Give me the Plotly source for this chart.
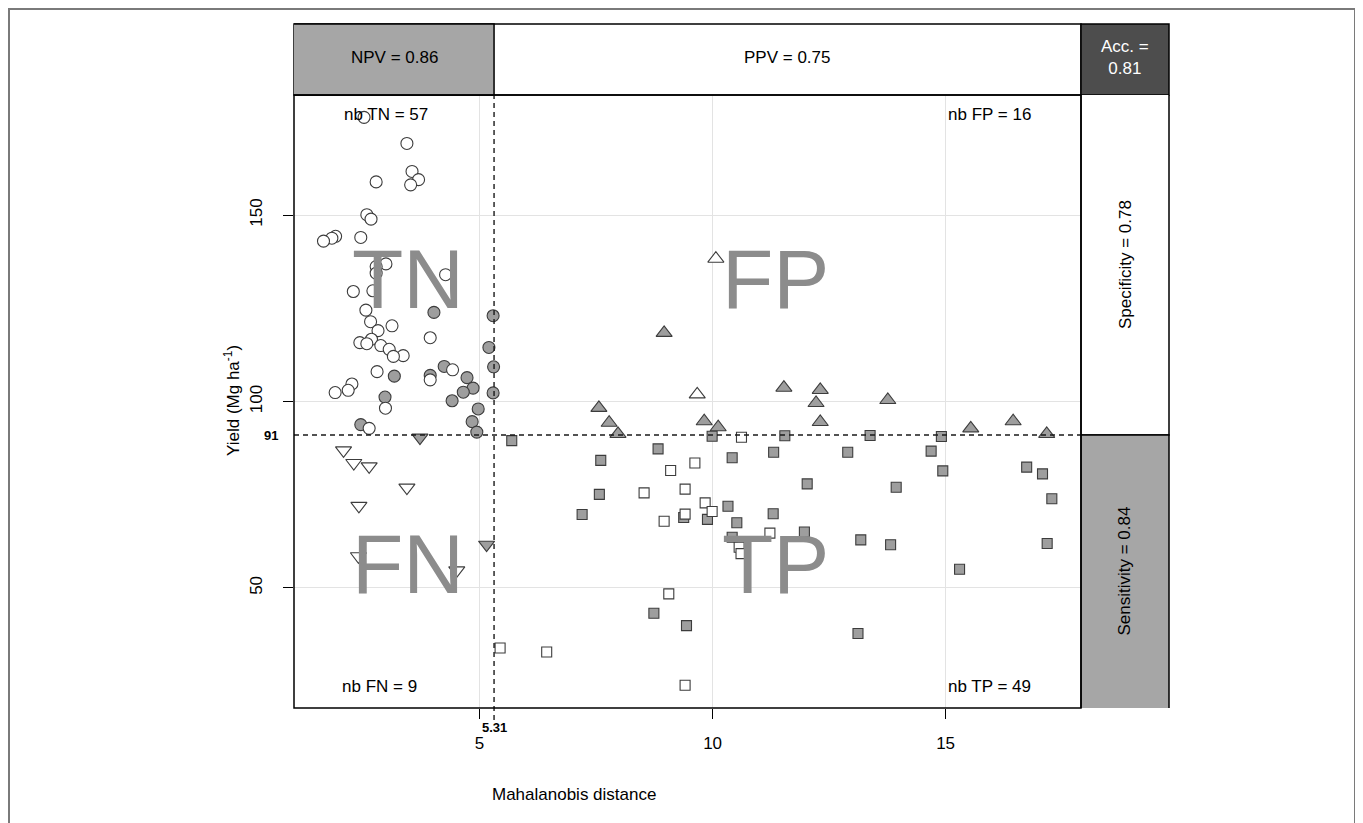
import plotly.graph_objects as go

# ---------------- data ----------------
x_threshold = 5.31
y_threshold = 91

circle_gray_x = [4.02, 5.29, 5.20, 5.30, 4.24, 3.17, 4.73, 3.94, 4.86, 4.65, 5.29, 4.41, 2.97, 4.97, 4.84, 4.94, 2.45]
circle_gray_y = [123.9, 123.0, 114.5, 109.3, 109.4, 106.8, 106.4, 107.0, 103.6, 102.5, 102.3, 100.2, 101.2, 98.0, 94.6, 91.8, 93.8]
circle_open_x = [2.52, 3.44, 3.55, 3.69, 3.52, 2.78, 2.58, 2.67, 1.91, 1.83, 1.65, 2.45, 2.99, 2.78, 2.78, 4.27,
                 2.29, 2.71, 2.56, 2.66, 3.12, 2.82, 3.94, 2.68, 2.43, 2.58, 2.88, 3.06, 3.36, 3.15, 2.80, 4.42,
                 3.94, 2.26, 2.18, 1.90, 2.98, 2.63]
circle_open_y = [176.2, 169.2, 161.7, 159.5, 158.1, 158.9, 150.1, 148.9, 144.3, 143.8, 143.0, 144.0, 136.9, 136.2,
                 134.4, 134.0, 129.5, 129.7, 124.5, 121.4, 120.3, 119.0, 117.1, 116.7, 115.8, 115.5, 115.0, 114.0,
                 112.3, 112.1, 108.0, 108.5, 105.8, 104.7, 103.0, 102.4, 98.2, 92.8]

tri_down_gray_x = [3.72, 5.15]
tri_down_gray_y = [90.3, 61.6]
tri_down_open_x = [2.08, 2.30, 2.63, 3.44, 2.41, 2.40, 4.51]
tri_down_open_y = [86.9, 83.5, 82.6, 76.9, 72.0, 58.5, 54.7]

tri_up_gray_x = [8.96, 7.56, 7.78, 7.97, 9.82, 10.12, 11.53, 12.31, 12.22, 12.31, 13.76, 15.54, 16.45, 17.17]
tri_up_gray_y = [118.4, 98.3, 94.3, 91.3, 94.7, 93.1, 103.7, 103.1, 99.6, 94.5, 100.4, 92.8, 94.7, 91.3]
tri_up_open_x = [9.67, 10.07]
tri_up_open_y = [101.9, 138.3]

sq_gray_x = [5.69, 8.83, 7.60, 7.57, 7.20, 9.99, 10.42, 11.31, 11.55, 10.33, 11.30, 9.89, 10.52, 10.42, 9.38,
             8.74, 9.44, 13.38, 14.91, 12.90, 14.69, 14.94, 16.74, 17.08, 17.28, 12.03, 13.94, 11.97, 13.18,
             13.82, 17.18, 15.30, 13.12]
sq_gray_y = [89.5, 87.3, 84.2, 75.1, 69.7, 90.7, 84.9, 86.4, 90.8, 71.9, 69.9, 68.4, 67.5, 63.6, 68.9,
             43.2, 39.9, 90.9, 90.6, 86.4, 86.7, 81.4, 82.4, 80.6, 73.9, 77.9, 77.0, 65.0, 62.9,
             61.6, 61.9, 55.0, 37.8]
sq_open_x = [10.62, 9.62, 9.10, 9.41, 8.53, 9.84, 9.99, 9.41, 8.96, 11.23, 10.57, 10.61, 9.06, 5.44, 6.44, 9.41]
sq_open_y = [90.4, 83.5, 81.5, 76.5, 75.5, 72.8, 70.5, 69.8, 67.9, 64.7, 60.9, 59.2, 48.4, 33.9, 32.8, 23.9]

x_ticks = [5, 10, 15]
y_ticks = [50, 100, 150]
counts = {"TN": 57, "FP": 16, "FN": 9, "TP": 49}
npv, ppv, acc = 0.86, 0.75, 0.81
specificity, sensitivity = 0.78, 0.84

# ---------------- styling ----------------
FONT = "Liberation Sans, Arial, Helvetica, sans-serif"
GRAY_FILL = "#9e9e9e"
EDGE = "#3c3c3c"
BOX_GRAY = "#a6a6a6"
BOX_DARK = "#4d4d4d"
DASH = "5px,4px"

fig = go.Figure()


def add_pts(xs, ys, symbol, fill, size):
    fig.add_trace(go.Scatter(
        x=xs, y=ys, mode="markers", showlegend=False, hoverinfo="skip",
        marker=dict(symbol=symbol, color=fill, size=size, line=dict(color=EDGE, width=1.1)),
    ))


add_pts(circle_gray_x, circle_gray_y, "circle", GRAY_FILL, 12)
add_pts(circle_open_x, circle_open_y, "circle", "white", 12)
add_pts(tri_down_gray_x, tri_down_gray_y, "triangle-down", GRAY_FILL, 14)
add_pts(tri_down_open_x, tri_down_open_y, "triangle-down", "white", 14)
add_pts(tri_up_gray_x, tri_up_gray_y, "triangle-up", GRAY_FILL, 14)
add_pts(tri_up_open_x, tri_up_open_y, "triangle-up", "white", 14)
add_pts(sq_gray_x, sq_gray_y, "square", GRAY_FILL, 10)
add_pts(sq_open_x, sq_open_y, "square", "white", 10)

# page geometry (pixels in the screenshot); the page body adds an 8px offset
OFF = 8
W, H = 1363 - OFF, 823 - OFF
L, R, T, B = 294, 1081, 95, 708
pw, ph = R - L, B - T


def px(xp):
    return (xp - L) / pw


def py(yp):
    return (B - yp) / ph


shapes = []
# outer frame
shapes.append(dict(type="rect", xref="paper", yref="paper", x0=px(9), x1=px(1355), y0=py(860), y1=py(9),
                   line=dict(color="#7a7a7a", width=2), layer="below"))
# top strip boxes
shapes.append(dict(type="rect", xref="paper", yref="paper", x0=0, x1=1, y0=1, y1=py(24),
                   fillcolor="white", line=dict(color="black", width=1.5)))
shapes.append(dict(type="rect", xref="x", yref="paper", x0=-100, x1=x_threshold, y0=1, y1=py(24),
                   fillcolor=BOX_GRAY, line=dict(color="black", width=1.5)))
shapes.append(dict(type="rect", xref="paper", yref="paper", x0=1, x1=px(1169), y0=1, y1=py(24),
                   fillcolor=BOX_DARK, line=dict(color="black", width=1.5)))
# right column boxes
shapes.append(dict(type="rect", xref="paper", yref="y", x0=1, x1=px(1169), y0=y_threshold, y1=1000,
                   fillcolor="white", line=dict(color="black", width=1.5)))
shapes.append(dict(type="rect", xref="paper", yref="y", x0=1, x1=px(1169), y0=-1000, y1=y_threshold,
                   fillcolor=BOX_GRAY, line=dict(color="black", width=1.5)))
# threshold lines
shapes.append(dict(type="line", xref="x", yref="paper", x0=x_threshold, x1=x_threshold, y0=py(720), y1=1,
                   line=dict(color="#1a1a1a", width=1.4, dash=DASH)))
shapes.append(dict(type="line", xref="paper", yref="y", x0=0, x1=1, y0=y_threshold, y1=y_threshold,
                   line=dict(color="#1a1a1a", width=1.4, dash=DASH)))
# plot frame
shapes.append(dict(type="rect", xref="paper", yref="paper", x0=0, x1=1, y0=0, y1=1,
                   line=dict(color="black", width=1.5)))

ann = []


def text(x, y, s, size=17, color="black", xref="x", yref="y", angle=0, **kw):
    ann.append(dict(x=x, y=y, xref=xref, yref=yref, text=s, showarrow=False, textangle=angle,
                    xanchor="center", yanchor="middle",
                    font=dict(family=FONT, size=size, color=color), **kw))


BIG = "#8c8c8c"
text(3.46, 132.8, "TN", size=84, color=BIG)
text(11.36, 132.8, "FP", size=84, color=BIG)
text(3.46, 56.4, "FN", size=84, color=BIG)
text(11.36, 56.4, "TP", size=84, color=BIG)

text(3.0, 177.0, f"nb TN = {counts['TN']}")
text(15.95, 177.0, f"nb FP = {counts['FP']}")
text(2.86, 23.7, f"nb FN = {counts['FN']}")
text(15.95, 23.7, f"nb TP = {counts['TP']}")

text(px(394), py(58), f"NPV = {npv:.2f}", xref="paper", yref="paper")
text(px(787), py(58), f"PPV = {ppv:.2f}", xref="paper", yref="paper")
text(px(1125), py(58), f"Acc. =<br>{acc:.2f}", color="white", xref="paper", yref="paper")
text(px(1125), (y_threshold + 182.2) / 2, f"Specificity = {specificity:.2f}", xref="paper", angle=-90)
text(px(1125), (y_threshold + 17.8) / 2, f"Sensitivity = {sensitivity:.2f}", xref="paper", angle=-90)

text(x_threshold, py(727), f"<b>{x_threshold}</b>", size=13, yref="paper")
text(px(271), y_threshold, f"<b>{y_threshold}</b>", size=13, xref="paper")

text(px(574), py(794), "Mahalanobis distance", xref="paper", yref="paper")
text(px(232), py(401), "Yield (Mg ha<sup>-1</sup>)", xref="paper", yref="paper", angle=-90)

fig.update_layout(
    width=W, height=H,
    margin=dict(l=L - OFF, r=(W + OFF) - R, t=T - OFF, b=(H + OFF) - B),
    plot_bgcolor="white", paper_bgcolor="white",
    shapes=shapes, annotations=ann,
    font=dict(family=FONT, size=16, color="black"),
)
fig.update_xaxes(range=[1.017, 17.906], tickvals=x_ticks, ticks="outside", ticklen=10, tickwidth=1,
                 tickcolor="black", showgrid=True, gridcolor="#e3e3e3", gridwidth=1, zeroline=False,
                 showline=False, ticklabelstandoff=10, tickfont=dict(size=17, family=FONT))
fig.update_yaxes(range=[17.8, 182.2], tickvals=y_ticks, ticks="outside", ticklen=10, tickwidth=1,
                 tickcolor="black", showgrid=True, gridcolor="#e3e3e3", gridwidth=1, zeroline=False,
                 showline=False, tickangle=-90, ticklabelstandoff=14, tickfont=dict(size=17, family=FONT))

fig.write_html("out.html")
